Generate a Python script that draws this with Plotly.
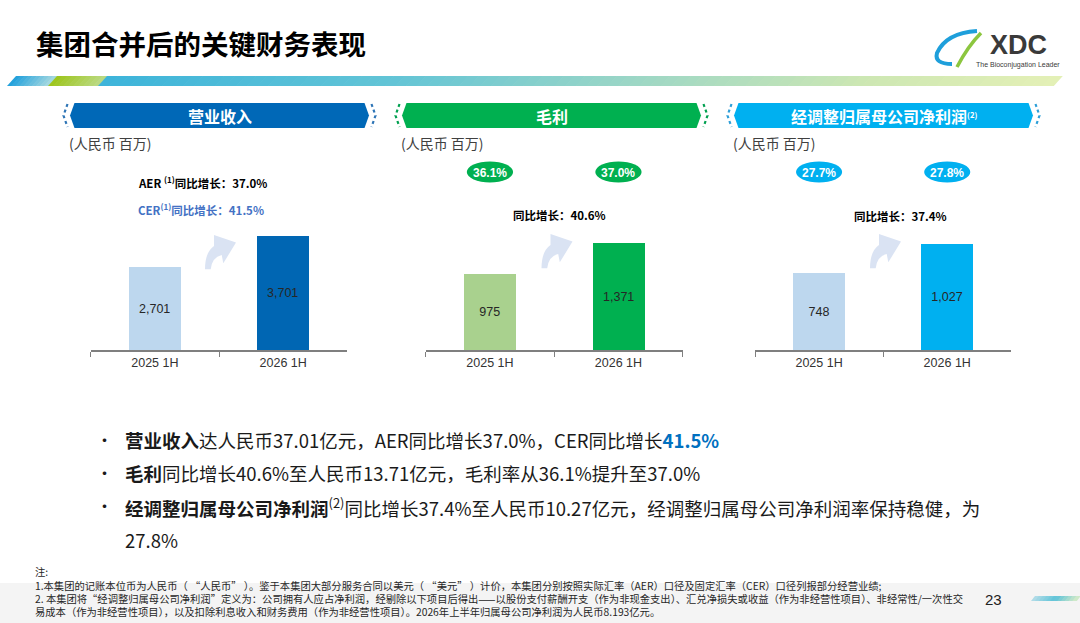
import plotly.graph_objects as go

# ---------------- data ----------------
periods = ["2025 1H", "2026 1H"]
revenue = [2701, 3701]
gross_profit = [975, 1371]
adj_net_profit = [748, 1027]
gross_margin = ["36.1%", "37.0%"]
adj_net_margin = ["27.7%", "27.8%"]
panel_titles = ["营业收入", "毛利", "经调整归属母公司净利润<span style='font-size:11px'><sup>(2)</sup></span>"]
unit_label = "(人民币 百万)"
aer_growth = "37.0%"
cer_growth = "41.5%"
gp_growth = "40.6%"
np_growth = "37.4%"

W, H = 1080, 623
FONT = "Noto Sans CJK SC"
LAT = "Liberation Sans"


def px(x):
    return x / W


def py(y):
    return 1 - y / H


def path(points, close=True):
    s = ""
    for i, p in enumerate(points):
        if p[0] == "Q":
            s += f" Q {px(p[1])},{py(p[2])} {px(p[3])},{py(p[4])}"
        else:
            s += (" M " if i == 0 else " L ") + f"{px(p[0])},{py(p[1])}"
    return s + (" Z" if close else "")


def hexcol(c):
    c = c.lstrip("#")
    return [int(c[i:i + 2], 16) for i in (0, 2, 4)]


def lerp(c1, c2, t):
    a, b = hexcol(c1), hexcol(c2)
    return "rgb(%d,%d,%d)" % tuple(round(a[i] + (b[i] - a[i]) * t) for i in range(3))


def grad(stops, t):
    for i in range(len(stops) - 1):
        t0, c0 = stops[i]
        t1, c1 = stops[i + 1]
        if t0 <= t <= t1:
            return lerp(c0, c1, (t - t0) / (t1 - t0) if t1 > t0 else 0)
    return lerp(stops[-1][1], stops[-1][1], 0)


shapes = []
annotations = []

# bottom grey band
shapes.append(dict(type="rect", xref="paper", yref="paper", x0=0, x1=1, y0=0, y1=py(583),
                   fillcolor="#F4F4F4", line=dict(width=0), layer="below"))


# gradient stripe under title
def stripe(x_start, x_end, y0, y1, slant, stops, n):
    seg = (x_end - x_start) / n
    for i in range(n):
        xa = x_start + i * seg
        xb = xa + seg + 0.8
        col = grad(stops, (i + 0.5) / n)
        shapes.append(dict(type="path", xref="paper", yref="paper",
                           path=path([(xa, y0), (xb, y0), (xb - slant, y1), (xa - slant, y1)]),
                           fillcolor=col, line=dict(width=0), layer="below"))


stripe(16, 57, 76, 86, 9, [(0, "#1E9FDC"), (1, "#A9DAE0")], 10)
stripe(57, 107, 76, 86, 9, [(0, "#9CC51A"), (1, "#BCDA86")], 10)
stripe(107, 1062, 76, 86, 9,
       [(0, "#3DB4DA"), (0.3, "#62C4D6"), (0.55, "#9BD6C6"), (0.8, "#CDE7B3"), (1, "#E4F0B6")], 90)
# small stripe bottom right
stripe(1035, 1080, 596, 601, 4, [(0, "#B5DDE8"), (0.5, "#5EC3D8"), (1, "#D8ECC8")], 12)

# title
annotations.append(dict(xref="paper", yref="paper", x=px(34), y=py(43), xanchor="left", yanchor="middle",
                        text="<b>集团合并后的关键财务表现</b>", showarrow=False,
                        font=dict(family=FONT, size=27.5, color="#000000")))

# logo
shapes.append(dict(type="path", xref="paper", yref="paper",
                   path=path([(977, 31), ("Q", 946, 33, 937, 53), ("Q", 934, 64, 952, 64)], close=False),
                   line=dict(color="#1E9FDB", width=4)))
shapes.append(dict(type="path", xref="paper", yref="paper",
                   path=path([(981, 33), ("Q", 968, 46, 957, 67)], close=False),
                   line=dict(color="#8CC63F", width=3.5)))
annotations.append(dict(xref="paper", yref="paper", x=px(988), y=py(45), xanchor="left", yanchor="middle",
                        text="<b>XDC</b>", showarrow=False,
                        font=dict(family=LAT, size=27, color="#3A3A3A")))
annotations.append(dict(xref="paper", yref="paper", x=px(974), y=py(65), xanchor="left", yanchor="middle",
                        text="The Bioconjugation Leader", showarrow=False,
                        font=dict(family=LAT, size=7, color="#3A3A3A")))

# ---------------- panels ----------------
panels = [
    dict(vals=revenue, colors=["#BDD7EE", "#0066B3"], xdom=(90.7, 347.3), ymax=7142,
         banner="#0068B7", dots="#2E75B6", center=219.5, arrow=(205, 269.3)),
    dict(vals=gross_profit, colors=["#A9D18E", "#00B050"], xdom=(425.7, 682.7), ymax=2819,
         banner="#00B050", dots="#00A050", center=551.5, arrow=(541.5, 268.3)),
    dict(vals=adj_net_profit, colors=["#BDD7EE", "#00B0F0"], xdom=(755, 1011.3), ymax=2131,
         banner="#00B0F0", dots="#2E9FD8", center=883.5, arrow=(870, 268.3)),
]

fig = go.Figure()
layout_axes = {}
for i, p in enumerate(panels):
    sfx = "" if i == 0 else str(i + 1)
    fig.add_trace(go.Bar(
        x=periods, y=p["vals"], marker=dict(color=p["colors"], line=dict(width=0)),
        width=0.405, text=[f"{v:,}" for v in p["vals"]], textposition="inside",
        insidetextanchor="middle", textangle=0, constraintext="none",
        textfont=dict(family=LAT, size=12.5, color="#262626"),
        xaxis="x" + sfx, yaxis="y" + sfx, hoverinfo="skip"))
    layout_axes["xaxis" + sfx] = dict(
        domain=[px(p["xdom"][0]), px(p["xdom"][1])], anchor="y" + sfx, type="category",
        range=[-0.5, 1.5], showline=True, linecolor="#7F7F7F", linewidth=1.5,
        ticks="outside", tickson="boundaries", ticklen=5, tickcolor="#7F7F7F", tickwidth=1.3,
        tickfont=dict(family=LAT, size=12.5, color="#333333"), showgrid=False, zeroline=False,
        fixedrange=True)
    layout_axes["yaxis" + sfx] = dict(domain=[py(350), py(130)], anchor="x" + sfx,
                                      range=[0, p["ymax"]], visible=False, fixedrange=True)

    # banner
    c = p["center"]
    hw, tip = 145, 4.5
    y0, y1, ym = 103, 128, 115.5
    shapes.append(dict(type="path", xref="paper", yref="paper",
                       path=path([(c - hw, y0), (c + hw, y0), (c + hw + tip, ym), (c + hw, y1),
                                  (c - hw, y1), (c - hw - tip, ym)]),
                       fillcolor=p["banner"], line=dict(width=0)))
    for sgn in (-1, 1):
        xo = c + sgn * (hw + 7)
        shapes.append(dict(type="path", xref="paper", yref="paper",
                           path=path([(xo, y0 + 1), (xo + sgn * 4, ym), (xo, y1 - 1)], close=False),
                           line=dict(color=p["dots"], width=2.2, dash="dot")))
    annotations.append(dict(xref="paper", yref="paper", x=px(c), y=py(ym), xanchor="center",
                            yanchor="middle", text="<b>" + panel_titles[i] + "</b>", showarrow=False,
                            font=dict(family=FONT, size=16, color="#FFFFFF")))
    # unit label
    annotations.append(dict(xref="paper", yref="paper", x=px(c - 153), y=py(143), xanchor="left",
                            yanchor="middle", text=unit_label, showarrow=False,
                            font=dict(family=FONT, size=14, color="#404040")))
    # arrow
    bx, by = p["arrow"]
    rel = [(0, 0), ("Q", 0, -17, 9, -23.3), (9, -34.3), (31, -26.7), (18.3, -6), (16.7, -14.3),
           ("Q", 7, -12, 5.7, 0)]
    pts = []
    for r in rel:
        if r[0] == "Q":
            pts.append(("Q", bx + r[1], by + r[2], bx + r[3], by + r[4]))
        else:
            pts.append((bx + r[0], by + r[1]))
    shapes.append(dict(type="path", xref="paper", yref="paper", path=path(pts),
                       fillcolor="#DAE3F3", line=dict(width=0)))

# margin ellipses (panels 2 and 3)
for sfx, margins, col in (("2", gross_margin, "#00B050"), ("3", adj_net_margin, "#00B0F0")):
    for j, m in enumerate(margins):
        shapes.append(dict(type="circle", xref="x" + sfx, yref="paper", x0=j - 0.18, x1=j + 0.18,
                           y0=py(182.5), y1=py(161.5), fillcolor=col, line=dict(width=0)))
        annotations.append(dict(xref="x" + sfx, yref="paper", x=periods[j], y=py(172.5),
                                xanchor="center", yanchor="middle", text="<b>" + m + "</b>",
                                showarrow=False, font=dict(family=LAT, size=12, color="#FFFFFF")))

# growth labels
annotations.append(dict(xref="paper", yref="paper", x=px(136), y=py(183), xanchor="left", yanchor="middle",
                        text="<b>AER <sup>(1)</sup>同比增长：" + aer_growth + "</b>", showarrow=False,
                        font=dict(family=FONT, size=11.5, color="#000000")))
annotations.append(dict(xref="paper", yref="paper", x=px(136), y=py(210), xanchor="left", yanchor="middle",
                        text="<b>CER<sup>(1)</sup>同比增长：" + cer_growth + "</b>", showarrow=False,
                        font=dict(family=FONT, size=11.5, color="#4472C4")))
annotations.append(dict(xref="paper", yref="paper", x=px(559), y=py(215), xanchor="center", yanchor="middle",
                        text="<b>同比增长：" + gp_growth + "</b>", showarrow=False,
                        font=dict(family=FONT, size=11.5, color="#000000")))
annotations.append(dict(xref="paper", yref="paper", x=px(900), y=py(216), xanchor="center", yanchor="middle",
                        text="<b>同比增长：" + np_growth + "</b>", showarrow=False,
                        font=dict(family=FONT, size=11.5, color="#000000")))

# bullets
bullets = [
    (440, "<b>营业收入</b>达人民币37.01亿元，AER同比增长37.0%，CER同比增长"
          "<span style='color:#0070C0'><b>41.5%</b></span>", True),
    (473, "<b>毛利</b>同比增长40.6%至人民币13.71亿元，毛利率从36.1%提升至37.0%", True),
    (507, "<b>经调整归属母公司净利润</b><sup>(2)</sup>同比增长37.4%至人民币10.27亿元，"
          "经调整归属母公司净利润率保持稳健，为", True),
    (540, "27.8%", False),
]
for y, txt, dot in bullets:
    if dot:
        annotations.append(dict(xref="paper", yref="paper", x=px(104), y=py(y - 1), xanchor="center",
                                yanchor="middle", text="•", showarrow=False,
                                font=dict(family=FONT, size=17, color="#1A1A1A")))
    annotations.append(dict(xref="paper", yref="paper", x=px(123), y=py(y), xanchor="left",
                            yanchor="middle", text=txt, showarrow=False,
                            font=dict(family=FONT, size=18.5, color="#1A1A1A")))

# notes
notes = [
    (571, "注:"),
    (585, "1.本集团的记账本位币为人民币（ “人民币” ）。鉴于本集团大部分服务合同以美元（ “美元” ）计价，"
          "本集团分别按照实际汇率（AER）口径及固定汇率（CER）口径列报部分经营业绩;"),
    (598, "2. 本集团将“经调整归属母公司净利润”定义为：公司拥有人应占净利润，经剔除以下项目后得出——"
          "以股份支付薪酬开支（作为非现金支出）、汇兑净损失或收益（作为非经营性项目）、非经常性/一次性交"),
    (611, "易成本（作为非经营性项目），以及扣除利息收入和财务费用（作为非经营性项目）。"
          "2026年上半年归属母公司净利润为人民币8.193亿元。"),
]
for y, txt in notes:
    annotations.append(dict(xref="paper", yref="paper", x=px(33), y=py(y), xanchor="left",
                            yanchor="middle", text=txt, showarrow=False,
                            font=dict(family=FONT, size=10.3, color="#262626")))
annotations.append(dict(xref="paper", yref="paper", x=px(993), y=py(599), xanchor="center",
                        yanchor="middle", text="23", showarrow=False,
                        font=dict(family=LAT, size=15, color="#222222")))

fig.update_layout(
    width=W, height=H, margin=dict(l=0, r=0, t=0, b=0),
    paper_bgcolor="#FFFFFF", plot_bgcolor="rgba(0,0,0,0)", showlegend=False,
    shapes=shapes, annotations=annotations, bargap=0, **layout_axes)

fig.write_html("out.html", config={"displayModeBar": False},
               post_script="document.body.style.margin='0px';document.body.style.overflow='hidden';")
